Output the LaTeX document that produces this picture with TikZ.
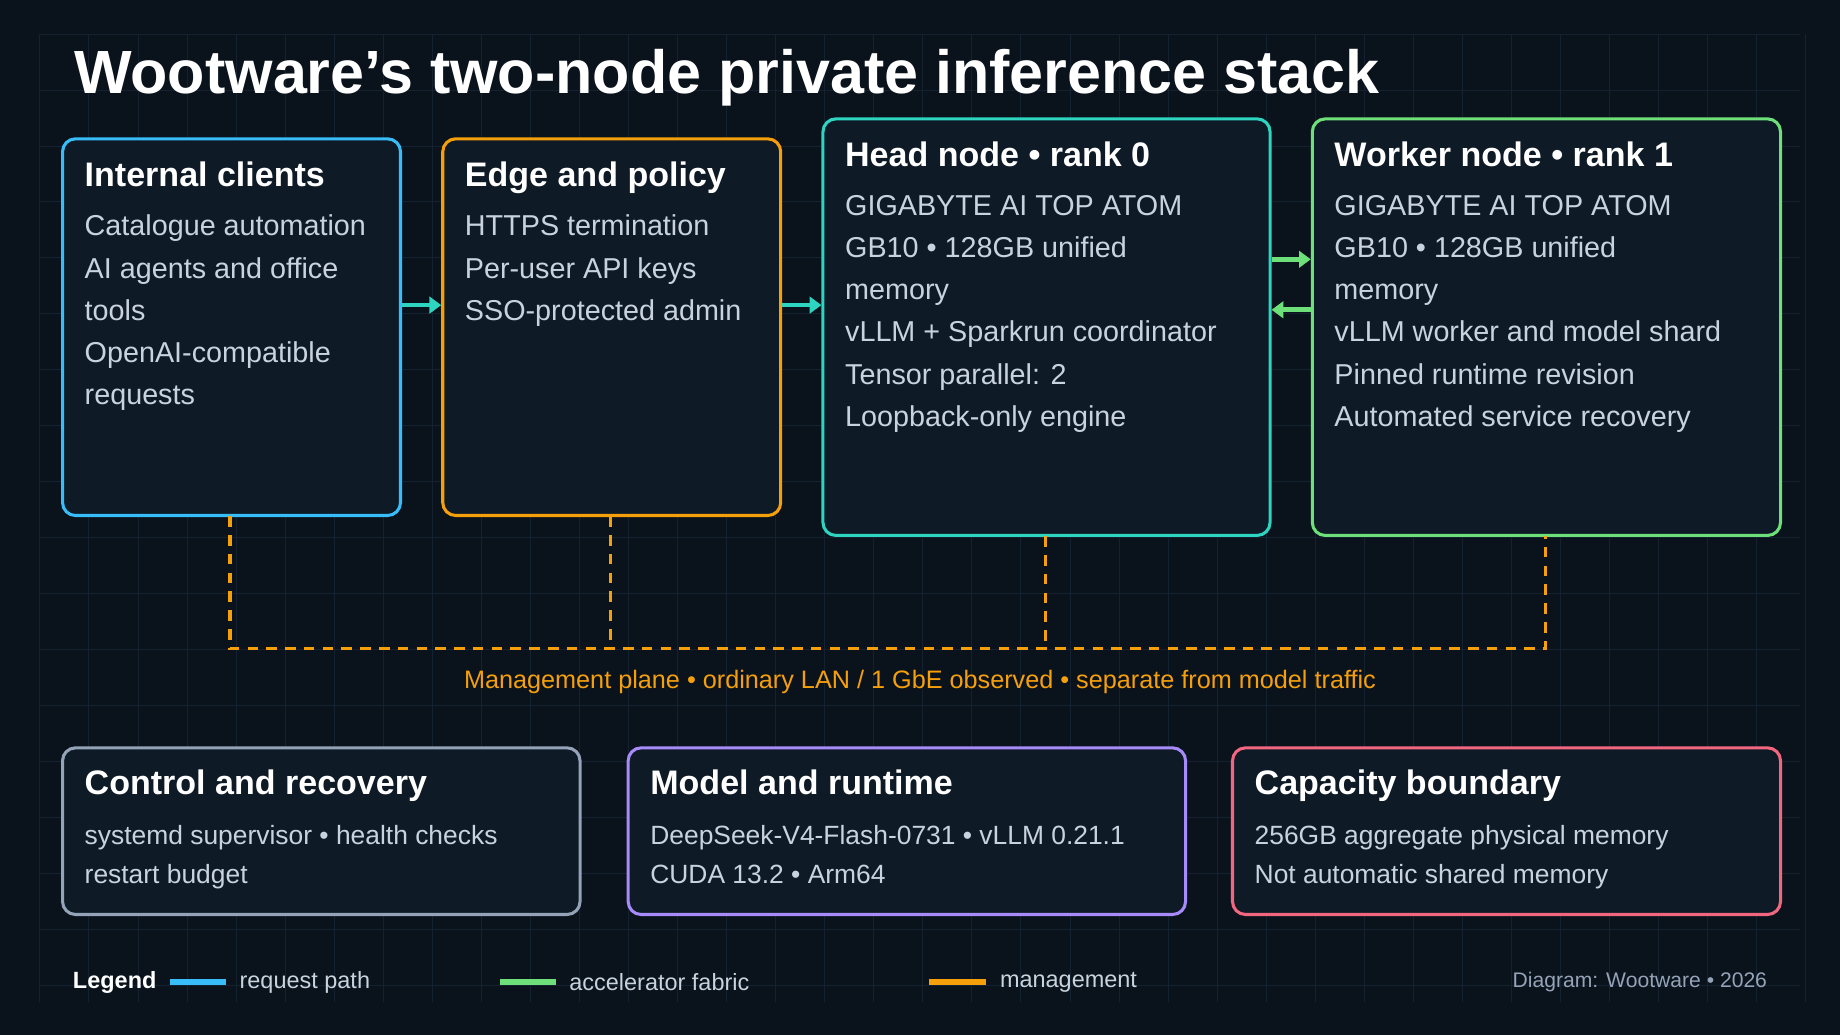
\documentclass[tikz,border=0pt]{standalone}
\usepackage{fontspec}
\setmainfont{Liberation Sans}
\usetikzlibrary{arrows.meta}
\definecolor{bg}{HTML}{0A121B}
\definecolor{boxbg}{HTML}{0E1A26}
\definecolor{gridc}{HTML}{132130}
\definecolor{cblue}{HTML}{38BDF8}
\definecolor{corange}{HTML}{F5A00B}
\definecolor{cteal}{HTML}{2DD4BF}
\definecolor{cgreen}{HTML}{6EE07A}
\definecolor{cgray}{HTML}{94A3B8}
\definecolor{cpurple}{HTML}{A78BFA}
\definecolor{cpink}{HTML}{F2667F}
\definecolor{ctext}{HTML}{C8D3DE}
\tikzset{
 box/.style={draw, line width=2.6pt, rounded corners=11pt, fill=boxbg, anchor=north west, inner sep=0pt},
 ttl/.style={anchor=north west, inner sep=0pt, text=white, font=\fontsize{29}{34}\selectfont\bfseries},
 bod/.style={anchor=north west, inner sep=0pt, text=ctext, align=left, font=\fontsize{24.5}{36}\selectfont},
 bods/.style={anchor=north west, inner sep=0pt, text=ctext, align=left, font=\fontsize{22.5}{33}\selectfont},
 flow/.style={line width=4pt, -{Triangle[length=10pt,width=14pt]}},
 mgmt/.style={corange, line width=2.6pt, dash pattern=on 9pt off 7pt},
 leg/.style={anchor=west, inner sep=0pt, text=ctext, font=\fontsize{20}{24}\selectfont},
}
\begin{document}
\begin{tikzpicture}[x=1pt,y=-1pt]
\fill[bg] (0,0) rectangle (1568,882);
\useasboundingbox (0,0) rectangle (1568,882);
\foreach \i in {0,...,36} \draw[gridc, line width=0.8pt] ({34+41.8*\i},29) -- ({34+41.8*\i},854);
\foreach \j in {0,...,17} \draw[gridc, line width=0.8pt] (34,{29+47.7*\j}) -- (1534,{29+47.7*\j});
\node[anchor=north west, inner sep=0pt, text=white, font=\fontsize{52}{60}\selectfont\bfseries] (title) at (63,42) {Wootware's two-node private inference stack};
% top boxes
\node[box, draw=cblue, minimum width=288pt, minimum height=321pt] (ic) at (52,117) {};
\node[box, draw=corange, minimum width=288pt, minimum height=321pt] (ep) at (376,117) {};
\node[box, draw=cteal, minimum width=381pt, minimum height=355pt] (hn) at (700,100) {};
\node[box, draw=cgreen, minimum width=399pt, minimum height=355pt] (wn) at (1117,100) {};
\node[ttl] (ict) at (72,138) {Internal clients};
\node[bod] (icb) at (72,183) {Catalogue automation\\AI agents and office\\tools\\OpenAI-compatible\\requests};
\node[ttl] (ept) at (396,138) {Edge and policy};
\node[bod] (epb) at (396,183) {HTTPS termination\\Per-user API keys\\SSO-protected admin};
\node[ttl] (hnt) at (720,121) {Head node • rank 0};
\node[bod] (hnb) at (720,166) {GIGABYTE AI TOP ATOM\\GB10 • 128GB unified\\memory\\vLLM + Sparkrun coordinator\\Tensor parallel: 2\\Loopback-only engine};
\node[ttl] (wnt) at (1137,121) {Worker node • rank 1};
\node[bod] (wnb) at (1137,166) {GIGABYTE AI TOP ATOM\\GB10 • 128GB unified\\memory\\vLLM worker and model shard\\Pinned runtime revision\\Automated service recovery};
% arrows
\draw[flow, cteal] (ic.east |- 0,260) -- (ep.west |- 0,260);
\draw[flow, cteal] (ep.east |- 0,260) -- (hn.west |- 0,260);
\draw[flow, cgreen] (hn.east |- 0,221) -- (wn.west |- 0,221);
\draw[flow, cgreen] (wn.west |- 0,264) -- (hn.east |- 0,264);
% management
\coordinate (m1) at (196,553);
\coordinate (m4) at (1317,553);
\draw[mgmt] (196,440) -- (m1) -- (m4) -- (1317,457);
\draw[mgmt] (520,440) -- (520,553);
\draw[mgmt] (891,457) -- (891,553);
\node[inner sep=0pt, text=corange, font=\fontsize{21.5}{26}\selectfont] (ml) at (784,581) {Management plane • ordinary LAN / 1 GbE observed • separate from model traffic};
% bottom boxes
\node[box, draw=cgray, minimum width=441pt, minimum height=142pt] (cr) at (52,636) {};
\node[box, draw=cpurple, minimum width=475pt, minimum height=142pt] (mr) at (534,636) {};
\node[box, draw=cpink, minimum width=467pt, minimum height=142pt] (cb) at (1049,636) {};
\node[ttl] (crt) at (72,656) {Control and recovery};
\node[bods] (crb) at (72,703) {systemd supervisor • health checks\\restart budget};
\node[ttl] (mrt) at (554,656) {Model and runtime};
\node[bods] (mrb) at (554,703) {DeepSeek-V4-Flash-0731 • vLLM 0.21.1\\CUDA 13.2 • Arm64};
\node[ttl] (cbt) at (1069,656) {Capacity boundary};
\node[bods] (cbb) at (1069,703) {256GB aggregate physical memory\\Not automatic shared memory};
% legend
\node[leg, text=white, font=\fontsize{20}{24}\selectfont\bfseries] (lg) at (62,837) {Legend};
\draw[cblue, line width=5pt] (145,837) -- (193,837);
\node[leg] (l1) at (204,837) {request path};
\draw[cgreen, line width=5pt] (426,837) -- (474,837);
\node[leg] (l2) at (485,837) {accelerator fabric};
\draw[corange, line width=5pt] (792,837) -- (840,837);
\node[leg] (l3) at (852,837) {management};
\node[anchor=east, inner sep=0pt, text=cgray, font=\fontsize{18}{22}\selectfont] (cr2) at (1506,837) {Diagram: Wootware • 2026};
\end{tikzpicture}
\end{document}
